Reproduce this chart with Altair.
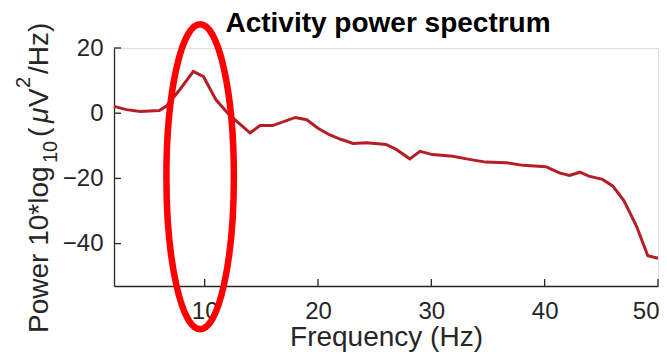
import altair as alt
import pandas as pd

# Spectrum values
freq = [2.0, 3.1, 4.3, 6.0, 6.6, 7.8, 9.0, 9.9, 11.0, 12.2, 14.0, 14.9, 16.0,
        18.0, 19.0, 20.0, 21.0, 22.0, 23.1, 24.3, 26.0, 26.9, 28.1, 29.0, 30.1,
        31.9, 33.1, 34.8, 36.6, 38.1, 40.1, 41.3, 42.2, 43.1, 43.9, 45.1, 46.0,
        47.0, 48.1, 49.1, 50.0]
power = [2.1, 1.1, 0.5, 0.8, 2.1, 7.2, 12.8, 11.2, 4.1, -0.6, -6.0, -3.8, -3.8,
         -1.3, -2.0, -4.6, -6.6, -8.0, -9.3, -9.1, -9.6, -11.1, -14.0, -11.7, -12.7,
         -13.2, -14.0, -15.0, -15.2, -16.0, -16.4, -18.3, -19.1, -18.1, -19.3, -20.3, -22.3,
         -26.9, -34.6, -43.7, -44.5]

x_ticks = [10, 20, 30, 40, 50]
y_ticks = [-40, -20, 0, 20]

# Highlight annotation (ellipse around the alpha peak)
hl_freq = [9.6]
hl_power = [-19.5]

TITLE = "Activity power spectrum"
XTITLE = "Frequency (Hz)"
# y title pieces: Power 10*log_10(\mu V^2/Hz)
Y_MAIN = "Power 10*log"
Y_SUB = "10"
Y_PAREN = "("
Y_MU = "μ"
Y_V = "V"
Y_SUP = "2"
Y_END = "/Hz)"

W, H = 544, 238
FONT = "Liberation Sans"
INK = "#262626"

xs = alt.Scale(domain=[2, 50], nice=False, zero=False)
ys = alt.Scale(domain=[-53, 20], nice=False, zero=False)

df = pd.DataFrame({"f": freq, "p": power})
xt = pd.DataFrame({"t": x_ticks})
yt = pd.DataFrame({"t": y_ticks})
hl = pd.DataFrame({"f": hl_freq, "p": hl_power})
one = pd.DataFrame({"k": [0]})

line = alt.Chart(df).mark_line(color="#b21f27", strokeWidth=3).encode(
    x=alt.X("f:Q", scale=xs,
            axis=alt.Axis(values=x_ticks, title=XTITLE, grid=False,
                          tickSize=0, labelPadding=13, labelFontSize=24,
                          labelFlush=True, labelFlushOffset=1, labelOverlap=False,
                          labelColor=INK, labelFont=FONT, titleFont=FONT,
                          titleFontSize=28, titleFontWeight="normal",
                          titleColor=INK, titlePadding=0,
                          domainColor=INK, domainWidth=1.3)),
    y=alt.Y("p:Q", scale=ys,
            axis=alt.Axis(values=y_ticks, title=None, grid=False,
                          tickSize=0, labelPadding=11, labelFontSize=24,
                          labelFlush=False,
                          labelColor=INK, labelFont=FONT,
                          domainColor=INK, domainWidth=1.3)),
)

xtick = alt.Chart(xt).mark_rule(color=INK, strokeWidth=1.3).encode(
    x=alt.X("t:Q", scale=xs), y=alt.value(H), y2=alt.value(H - 7))
ytick = alt.Chart(yt).mark_rule(color=INK, strokeWidth=1.3).encode(
    y=alt.Y("t:Q", scale=ys), x=alt.value(0), x2=alt.value(7))

ellipse_path = ("M -0.2213 0 A 0.2213 1 0 1 0 0.2213 0 "
                "A 0.2213 1 0 1 0 -0.2213 0 Z")
ell = alt.Chart(hl).mark_point(shape=ellipse_path, filled=False, color="#ff0000",
                               strokeWidth=6.5, size=93025, opacity=1).encode(
    x=alt.X("f:Q", scale=xs), y=alt.Y("p:Q", scale=ys))


def ypiece(txt, px, py, size, style="normal"):
    return alt.Chart(one).mark_text(
        text=txt, angle=270, align="left", baseline="alphabetic",
        font=FONT, fontSize=size, fontStyle=style, color=INK,
    ).encode(x=alt.value(px), y=alt.value(py))


ytitle = [
    ypiece(Y_MAIN, -66, 285, 28),
    ypiece(Y_SUB, -57, 115, 20),
    ypiece(Y_PAREN, -66, 89, 28),
    ypiece(Y_MU, -66, 75, 28, "italic"),
    ypiece(Y_V, -66, 59, 28),
    ypiece(Y_SUP, -84, 40, 20),
    ypiece(Y_END, -66, 26, 28),
]

title = alt.Chart(one).mark_text(
    text=TITLE, align="center", baseline="alphabetic", font=FONT,
    fontSize=28, fontWeight="bold", color="#000000",
).encode(x=alt.value(274), y=alt.value(-16))

chart = alt.layer(line, xtick, ytick, ell, title, *ytitle).properties(
    width=W, height=H,
    autosize=alt.AutoSizeParams(type="none"),
    padding={"left": 106, "top": 40, "right": 1, "bottom": 70},
).configure_view(stroke=None).configure(background="white")

chart.save("out.html", embed_options={"renderer": "svg", "actions": False})
